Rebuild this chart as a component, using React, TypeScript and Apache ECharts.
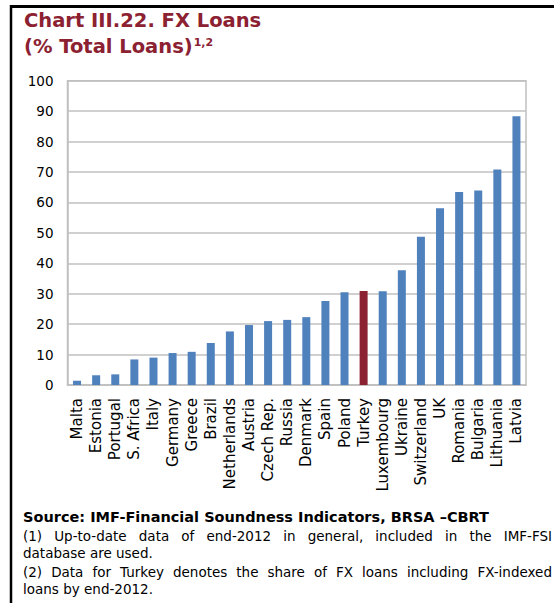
import React, { useEffect, useRef } from 'react';
import * as echarts from 'echarts';

const categories = [
  'Malta', 'Estonia', 'Portugal', 'S. Africa', 'Italy', 'Germany', 'Greece', 'Brazil',
  'Netherlands', 'Austria', 'Czech Rep.', 'Russia', 'Denmark', 'Spain', 'Poland', 'Turkey',
  'Luxembourg', 'Ukraine', 'Switzerland', 'UK', 'Romania', 'Bulgaria', 'Lithuania', 'Latvia',
];
const values = [
  1.4, 3.2, 3.5, 8.4, 9.0, 10.5, 10.9, 13.8,
  17.6, 19.7, 21.0, 21.4, 22.3, 27.6, 30.5, 30.9,
  30.8, 37.7, 48.7, 58.1, 63.4, 63.9, 70.8, 88.3,
];
const highlighted = ['Turkey'];
const yTicks = { min: 0, max: 100, interval: 10 };

const titleLine1 = 'Chart III.22. FX Loans';
const titleLine2 = '(% Total Loans)';
const titleSup = '1,2';
const sourceLine = 'Source: IMF-Financial Soundness Indicators, BRSA \u2013CBRT';
const noteLines = [
  '(1) Up-to-date data of end-2012 in general, included in the IMF-FSI',
  'database are used.',
  '(2) Data for Turkey denotes the share of FX loans including FX-indexed',
  'loans by end-2012.',
];
const noteJustify = [true, false, true, false];

const FONT = '"DejaVu Sans", Verdana, sans-serif';
const RED = '#8B2131';
const BLUE = '#4F81BD';
const GRID = '#c0c0c0';

function measure(text: string, font: string): number {
  const c = document.createElement('canvas').getContext('2d');
  if (!c) return text.length * 7;
  c.font = font;
  return c.measureText(text).width;
}

function justifiedLine(text: string, x0: number, x1: number, y: number, size: number) {
  const font = `${size}px ${FONT}`;
  const words = text.split(' ');
  const widths = words.map((w) => measure(w, font));
  const total = widths.reduce((a, b) => a + b, 0);
  const gap = words.length > 1 ? (x1 - x0 - total) / (words.length - 1) : 0;
  let x = x0;
  return words.map((w, i) => {
    const el = {
      type: 'text',
      x,
      y,
      style: { text: w, fontSize: size, fontFamily: FONT, fill: '#000', verticalAlign: 'middle', align: 'left' },
    };
    x += widths[i] + gap;
    return el;
  });
}

export default function App() {
  const ref = useRef<HTMLDivElement>(null);
  useEffect(() => {
    if (!ref.current) return;
    const chart = echarts.init(ref.current, null, { renderer: 'svg' });

    const titleSize = 19.5;
    const line2W = measure(titleLine2, `bold ${titleSize}px ${FONT}`);
    const bodySize = 13.5;
    const sourceSize = 14.5;
    const baseShift = 0.346;
    const noteBaselines = [540.7, 558, 576.7, 594];

    const graphics: any[] = [
      { type: 'line', shape: { x1: 10, y1: 6.5, x2: 554, y2: 6.5 }, style: { stroke: '#000', lineWidth: 3 } },
      { type: 'line', shape: { x1: 11, y1: 5, x2: 11, y2: 603 }, style: { stroke: '#000', lineWidth: 2.5 } },
      {
        type: 'text', x: 24, y: 27.3 - baseShift * titleSize,
        style: { text: titleLine1, fontSize: titleSize, fontWeight: 'bold', fontFamily: FONT, fill: RED, verticalAlign: 'middle' },
      },
      {
        type: 'text', x: 24, y: 53.3 - baseShift * titleSize,
        style: { text: titleLine2, fontSize: titleSize, fontWeight: 'bold', fontFamily: FONT, fill: RED, verticalAlign: 'middle' },
      },
      {
        type: 'text', x: 24 + line2W + 1, y: 46 - baseShift * 11,
        style: { text: titleSup, fontSize: 11, fontWeight: 'bold', fontFamily: FONT, fill: RED, verticalAlign: 'middle' },
      },
      {
        type: 'text', x: 23, y: 522.3 - baseShift * sourceSize,
        style: { text: sourceLine, fontSize: sourceSize, fontWeight: 'bold', fontFamily: FONT, fill: '#000', verticalAlign: 'middle' },
      },
    ];
    noteLines.forEach((t, i) => {
      const y = noteBaselines[i] - baseShift * bodySize;
      if (noteJustify[i]) {
        graphics.push(...justifiedLine(t, 23, 552, y, bodySize));
      } else {
        graphics.push({
          type: 'text', x: 23, y,
          style: { text: t, fontSize: bodySize, fontFamily: FONT, fill: '#000', verticalAlign: 'middle' },
        });
      }
    });

    chart.setOption({
      animation: false,
      grid: {
        left: 67.5, top: 80.7, right: 28, bottom: 218,
        show: true, borderColor: GRID, borderWidth: 1.5, containLabel: false,
      },
      xAxis: {
        type: 'category',
        data: categories,
        axisTick: { show: false },
        axisLine: { show: true, lineStyle: { color: GRID, width: 1.5 } },
        axisLabel: {
          interval: 0, rotate: 90, margin: 13, fontSize: 15, fontFamily: FONT, color: '#000',
        },
      },
      yAxis: {
        type: 'value',
        min: yTicks.min, max: yTicks.max, interval: yTicks.interval,
        axisLine: { show: true, lineStyle: { color: GRID, width: 1.5 } },
        axisTick: { show: false },
        axisLabel: { fontSize: 13.5, fontFamily: FONT, color: '#000', margin: 14 },
        splitLine: { show: true, lineStyle: { color: GRID, width: 1.5 } },
      },
      series: [
        {
          type: 'bar',
          barWidth: 8,
          data: values.map((v, i) => ({
            value: v,
            itemStyle: { color: highlighted.includes(categories[i]) ? RED : BLUE },
          })),
        },
      ],
      graphic: graphics,
    });
    return () => chart.dispose();
  }, []);
  return (
    <div
      ref={ref}
      style={{ position: 'absolute', left: 0, top: 0, width: 554, height: 603, background: '#fff' }}
    />
  );
}
